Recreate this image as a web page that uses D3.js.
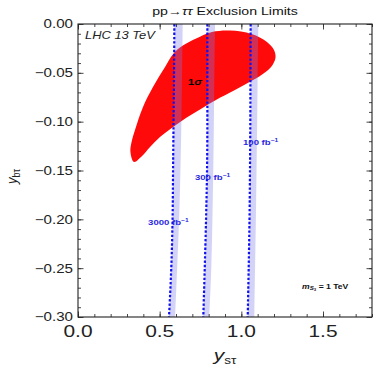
<!DOCTYPE html>
<html>
<head>
<meta charset="utf-8">
<script src="https://cdn.jsdelivr.net/npm/d3@7"></script>
<style>
  body { margin: 0; background: #fff; }
  text { font-family: "Liberation Sans", Arial, sans-serif; }
</style>
</head>
<body>
<div id="chart"></div>
<script>
// pp -> tau tau exclusion limits in the (y_s tau, y_b tau) plane

// 1 sigma region outline (clockwise from the lower-left tip)
var blobX = [0.343, 0.321, 0.328, 0.349, 0.398, 0.459, 0.533, 0.594, 0.666, 0.747, 0.820, 0.931,
             1.063, 1.155, 1.200, 1.209, 1.182, 1.127, 1.053, 0.961, 0.839, 0.747, 0.661, 0.582,
             0.502, 0.441, 0.392];
var blobY = [-0.1413, -0.1311, -0.1208, -0.1085, -0.0850, -0.0645, -0.0440, -0.0284, -0.0198, -0.0130, -0.0082, -0.0067,
             -0.0102, -0.0181, -0.0266, -0.0348, -0.0440, -0.0517, -0.0591, -0.0676, -0.0783, -0.0876, -0.0963, -0.1055,
             -0.1157, -0.1260, -0.1352];

// luminosity limit curves, sampled at these y values
var curveY = [0, -0.05, -0.10, -0.15, -0.20, -0.25, -0.30];
var lumi = ["100 fb", "300 fb", "3000 fb"];
var limitX = [
  [1.057, 1.056, 1.055, 1.053, 1.050, 1.045, 1.039],
  [0.792, 0.792, 0.792, 0.790, 0.784, 0.776, 0.767],
  [0.590, 0.588, 0.585, 0.582, 0.579, 0.571, 0.557]
];
// right edge of the uncertainty band of each curve
var bandX = [
  [1.104, 1.100, 1.097, 1.093, 1.089, 1.084, 1.079],
  [0.839, 0.835, 0.832, 0.828, 0.823, 0.816, 0.803],
  [0.641, 0.637, 0.633, 0.627, 0.619, 0.607, 0.594]
];
// where the curve labels sit
var labelX = [1.01, 0.716, 0.429];
var labelY = [-0.124, -0.160, -0.206];

var xTicks = [0, 0.5, 1.0, 1.5];
var yTicks = [0, -0.05, -0.10, -0.15, -0.20, -0.25, -0.30];

var margin = {left:78, right:2, top:24, bottom:52},
    width = 374 - margin.left - margin.right,
    height = 369 - margin.top - margin.bottom;
var stretch = 1.23;

var x = d3.scaleLinear().domain([0, 1.8]).range([0, width]);
var y = d3.scaleLinear().domain([-0.3, 0]).range([height, 0]);

var svg = d3.select("#chart").append("svg")
    .attr("width", 374)
    .attr("height", 369);

svg.append("defs").append("clipPath").attr("id", "clip")
  .append("rect").attr("width", width).attr("height", height);

var g = svg.append("g")
    .attr("transform", "translate(" + margin.left + "," + margin.top + ")");

var plot = g.append("g").attr("clip-path", "url(#clip)");

// red 1 sigma blob
var blob = blobX.map(function(d, i){ return [x(d), y(blobY[i])]; });
plot.append("path")
    .attr("d", d3.line().curve(d3.curveCatmullRomClosed.alpha(0.5))(blob))
    .attr("fill", "#ff0a0a");

// bands then dotted lines
var band = d3.area()
    .y(function(d){ return y(d.y); })
    .x0(function(d){ return x(d.x0); })
    .x1(function(d){ return x(d.x1); })
    .curve(d3.curveMonotoneY);

var line = d3.line()
    .x(function(d){ return x(d.x); })
    .y(function(d){ return y(d.y); })
    .curve(d3.curveMonotoneY);

limitX.forEach(function(xs, k) {
  var pts = curveY.map(function(v, i){ return {y: v, x: xs[i], x0: xs[i], x1: bandX[k][i]}; });
  plot.append("path")
      .attr("d", band(pts))
      .attr("fill", "rgb(120,120,235)")
      .attr("fill-opacity", 0.33);
  plot.append("path")
      .attr("d", line(pts))
      .attr("fill", "none")
      .attr("stroke", "#1010f0")
      .attr("stroke-width", 2.2)
      .attr("stroke-dasharray", "2.4,1.9");
});

function stext(parent, px, py, anchor, size) {
  return parent.append("text")
      .attr("transform", "translate(" + px + "," + py + ") scale(" + stretch + ",1)")
      .attr("text-anchor", anchor)
      .attr("font-size", size);
}

// curve labels
lumi.forEach(function(s, k) {
  var t = stext(g, x(labelX[k]), y(labelY[k]), "start", 7.8)
      .attr("fill", "#2a2ae0").attr("font-weight", "bold");
  t.append("tspan").text(s);
  t.append("tspan").attr("dy", -3.2).attr("font-size", 5.4).text("\u22121");
});

var sig = stext(g, x(0.672), y(-0.0625), "start", 9.5).attr("font-weight", "bold");
sig.append("tspan").text("1");
sig.append("tspan").attr("font-style", "italic").text("\u03c3");

stext(g, x(0.043), y(-0.0154), "start", 10.5)
    .attr("font-style", "italic").attr("fill", "#222").text("LHC 13 TeV");

var m = stext(g, x(1.372), y(-0.271), "start", 7)
    .attr("font-weight", "bold").attr("fill", "#111");
m.append("tspan").attr("font-style", "italic").text("m");
m.append("tspan").attr("font-style", "italic").attr("font-size", 5).attr("dy", 1.5).text("S");
m.append("tspan").attr("font-size", 3.5).attr("dy", 1).text("3");
m.append("tspan").attr("dy", -2.5).text(" =  1 TeV");

// ticks (inside the frame, on all four sides)
function minor(lo, hi, step) {
  return d3.range(Math.round((hi - lo) / step) + 1).map(function(i){ return lo + i * step; });
}
var xMinor = minor(0, 1.8, 0.1), yMinor = minor(-0.3, 0, 0.01);

g.append("g").attr("transform", "translate(0," + height + ")")
    .call(d3.axisBottom(x).tickValues(xMinor).tickSize(-3).tickFormat(""));
g.append("g").attr("transform", "translate(0," + height + ")")
    .call(d3.axisBottom(x).tickValues(xTicks).tickSize(-5.5).tickFormat(""));
g.append("g")
    .call(d3.axisTop(x).tickValues(xMinor).tickSize(-3).tickFormat(""));
g.append("g")
    .call(d3.axisTop(x).tickValues(xTicks).tickSize(-5.5).tickFormat(""));
g.append("g")
    .call(d3.axisLeft(y).tickValues(yMinor).tickSize(-3).tickFormat(""));
g.append("g")
    .call(d3.axisLeft(y).tickValues(yTicks).tickSize(-5.5).tickFormat(""));
g.append("g").attr("transform", "translate(" + width + ",0)")
    .call(d3.axisRight(y).tickValues(yMinor).tickSize(-3).tickFormat(""));
g.append("g").attr("transform", "translate(" + width + ",0)")
    .call(d3.axisRight(y).tickValues(yTicks).tickSize(-5.5).tickFormat(""));

g.selectAll(".domain").remove();
g.selectAll(".tick line").attr("stroke", "#333").attr("stroke-width", 0.9);

g.append("rect")
    .attr("width", width).attr("height", height)
    .attr("fill", "none").attr("stroke", "#222").attr("stroke-width", 1.1);

// tick labels
xTicks.forEach(function(v) {
  stext(g, x(v), height + 20, "middle", 17).attr("fill", "#222").text(d3.format(".1f")(v));
});
yTicks.forEach(function(v) {
  stext(g, -5, y(v) + 4.4, "end", 12.3).attr("fill", "#222")
      .text(d3.format(".2f")(v).replace("-", "\u2212"));
});

// axis titles
var xl = stext(g, x(0.9), height + 44, "middle", 17).attr("fill", "#222");
xl.append("tspan").attr("font-style", "italic").text("y");
xl.append("tspan").attr("font-size", 11).attr("dy", 3).text("s\u03c4");

var yl = g.append("text")
    .attr("transform", "translate(-61," + (height / 2 + 6) + ") rotate(-90) scale(1,1.15)")
    .attr("text-anchor", "middle").attr("font-size", 13).attr("fill", "#222");
yl.append("tspan").attr("font-style", "italic").text("y");
yl.append("tspan").attr("font-size", 9).attr("dy", 2.5).text("b\u03c4");

// title
var tt = stext(svg, margin.left + width / 2, 14.5, "middle", 11.5).attr("fill", "#111");
tt.append("tspan").text("pp\u2192");
tt.append("tspan").attr("font-style", "italic").text("\u03c4\u03c4");
tt.append("tspan").text(" Exclusion Limits");
</script>
</body>
</html>
